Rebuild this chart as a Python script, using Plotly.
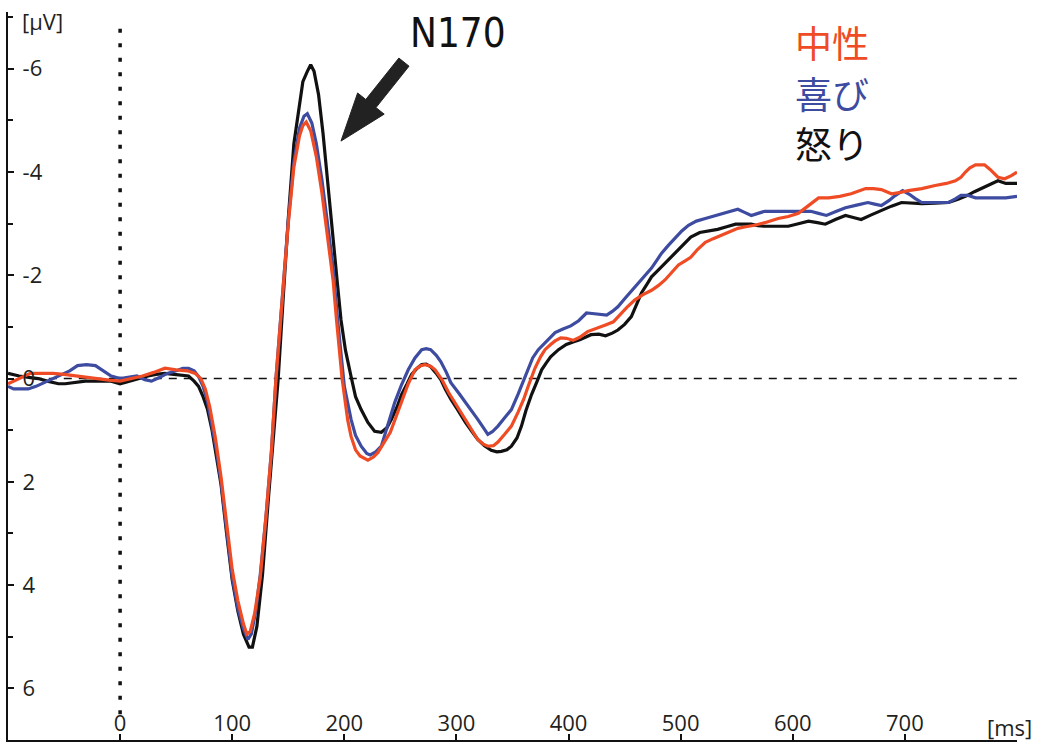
import numpy as np
import plotly.graph_objects as go

# ---------------- data ----------------
t_neutral = [-100,-90,-80,-70,-60,-50,-40,-30,-20,-10,0,10,20,30,40,50,60,67,72,76,80,85,90,95,100,105,110,113,116,120,125,130,135,139,145,150,155,160,163,166,170,175,180,185,190,193,198,203,206,210,214,221,226,230,235,241,246,251,257,263,268,272,277,281,287,293,300,308,314,319,324,328,333,337,343,349,355,360,364,370,375,379,384,388,393,398,404,410,417,425,433,440,444,452,459,466,474,480,486,492,498,504,509,515,522,529,536,544,551,558,566,575,587,596,605,614,623,632,642,652,665,672,679,688,695,703,715,727,737,745,750,754,758,763,771,776,783,789,795,800]
v_neutral = [0.1,0.0,-0.1,-0.1,-0.1,-0.08,-0.05,-0.03,0.0,0.03,0.05,0.0,-0.05,-0.12,-0.2,-0.17,-0.15,-0.1,0.0,0.2,0.55,1.15,1.9,2.8,3.7,4.3,4.75,4.95,4.9,4.55,3.85,2.7,1.4,0.0,-1.6,-3.0,-4.1,-4.7,-4.9,-4.97,-4.8,-4.3,-3.6,-2.8,-1.9,-1.14,0.0,0.8,1.12,1.38,1.5,1.58,1.52,1.43,1.25,1.04,0.75,0.46,0.1,-0.17,-0.25,-0.27,-0.24,-0.17,0.02,0.27,0.52,0.79,1.0,1.18,1.27,1.31,1.3,1.23,1.08,0.92,0.65,0.4,0.15,-0.2,-0.42,-0.56,-0.66,-0.73,-0.79,-0.78,-0.74,-0.8,-0.91,-0.97,-1.04,-1.1,-1.2,-1.38,-1.52,-1.62,-1.71,-1.8,-1.91,-2.05,-2.2,-2.28,-2.35,-2.5,-2.64,-2.71,-2.77,-2.85,-2.91,-2.94,-2.97,-3.02,-3.1,-3.14,-3.2,-3.35,-3.5,-3.5,-3.53,-3.58,-3.68,-3.68,-3.66,-3.58,-3.6,-3.64,-3.68,-3.74,-3.78,-3.83,-3.9,-4.0,-4.08,-4.14,-4.14,-4.05,-3.9,-3.87,-3.93,-4.0]

t_happy = [-100,-95,-90,-82,-75,-65,-55,-45,-38,-30,-22,-15,-8,0,8,15,22,28,35,42,50,56,61,66,70,74,78,82,86,90,95,100,105,110,114,117,121,125,130,135,139,145,150,155,160,164,167,171,175,180,185,190,194,200,206,210,215,220,223,228,233,239,245,251,257,263,269,273,277,282,286,291,295,302,308,314,319,324,328,332,337,343,349,355,361,364,368,373,379,384,388,395,402,409,416,421,426,434,439,444,451,458,466,474,479,483,489,495,501,507,514,522,529,536,544,551,557,563,569,575,587,600,616,623,630,639,647,657,667,673,679,686,691,698,704,709,715,727,739,745,750,756,763,775,790,800]
v_happy = [0.15,0.2,0.2,0.2,0.15,0.05,-0.05,-0.15,-0.25,-0.27,-0.25,-0.15,-0.05,0.0,-0.02,-0.05,0.02,0.05,-0.02,-0.1,-0.15,-0.2,-0.2,-0.15,-0.04,0.15,0.45,0.9,1.4,2.0,2.95,3.85,4.45,4.85,5.05,4.95,4.5,3.8,2.7,1.4,0.0,-1.65,-3.05,-4.2,-4.85,-5.08,-5.13,-4.95,-4.55,-3.85,-3.05,-2.15,-1.14,0.15,0.79,1.1,1.31,1.45,1.48,1.42,1.31,0.9,0.46,0.12,-0.17,-0.4,-0.56,-0.58,-0.56,-0.45,-0.33,-0.12,0.08,0.28,0.46,0.62,0.79,0.95,1.08,1.03,0.92,0.76,0.6,0.3,-0.02,-0.21,-0.4,-0.56,-0.7,-0.8,-0.89,-0.96,-1.02,-1.12,-1.27,-1.26,-1.25,-1.23,-1.3,-1.39,-1.57,-1.75,-1.95,-2.14,-2.3,-2.43,-2.58,-2.72,-2.86,-2.97,-3.05,-3.1,-3.14,-3.18,-3.23,-3.28,-3.22,-3.16,-3.2,-3.24,-3.24,-3.24,-3.24,-3.2,-3.16,-3.24,-3.31,-3.36,-3.41,-3.38,-3.35,-3.45,-3.54,-3.64,-3.57,-3.49,-3.41,-3.41,-3.41,-3.48,-3.55,-3.55,-3.5,-3.5,-3.5,-3.53]

t_anger = [-100,-90,-80,-73,-65,-55,-49,-40,-31,-20,-8,0,8,16,25,32,40,48,55,61,66,70,74,78,82,86,90,95,100,105,110,115,118,122,127,132,137,141,145,150,155,160,163,167,170,173,177,181,185,190,194,197,201,206,210,215,221,227,233,238,242,247,251,256,260,265,269,273,277,282,286,290,295,301,308,314,319,325,331,336,340,345,349,354,358,362,367,372,376,380,384,391,398,404,410,415,420,427,433,439,444,450,456,461,465,470,474,480,486,492,498,504,509,517,525,533,541,549,556,563,569,575,587,596,605,614,622,629,638,647,654,661,670,679,688,697,706,715,727,739,748,756,762,768,776,783,790,800]
v_anger = [-0.1,-0.05,-0.02,0.0,0.05,0.1,0.1,0.08,0.05,0.05,0.05,0.1,0.05,0.0,-0.05,-0.08,-0.1,-0.08,-0.06,-0.05,0.05,0.15,0.35,0.6,1.0,1.5,2.05,3.0,3.9,4.5,4.95,5.2,5.2,4.8,3.8,2.4,1.05,0.0,-1.4,-3.1,-4.55,-5.35,-5.75,-5.95,-6.08,-5.95,-5.5,-4.75,-3.8,-2.7,-1.8,-1.14,-0.55,-0.04,0.35,0.6,0.85,1.02,1.04,0.95,0.79,0.55,0.31,0.1,-0.08,-0.2,-0.27,-0.28,-0.23,-0.1,0.02,0.2,0.4,0.6,0.85,1.03,1.18,1.3,1.39,1.42,1.41,1.38,1.31,1.15,0.92,0.62,0.31,0.05,-0.17,-0.3,-0.42,-0.56,-0.66,-0.71,-0.75,-0.8,-0.85,-0.86,-0.83,-0.88,-0.94,-1.05,-1.2,-1.45,-1.66,-1.83,-1.97,-2.1,-2.23,-2.36,-2.49,-2.62,-2.74,-2.83,-2.86,-2.89,-2.94,-2.99,-2.99,-2.99,-2.96,-2.95,-2.95,-2.95,-3.0,-3.05,-3.02,-2.99,-3.08,-3.16,-3.12,-3.08,-3.17,-3.26,-3.34,-3.41,-3.4,-3.39,-3.4,-3.41,-3.48,-3.55,-3.62,-3.68,-3.76,-3.83,-3.78,-3.78]

series_names = ["中性", "喜び", "怒り"]
series_colors = ["#EF4B24", "#3D4BA0", "#111111"]

x_tick_vals = [0, 100, 200, 300, 400, 500, 600, 700]
x_tick_text = ["0", "100", "200", "300", "400", "500", "600", "700"]
y_tick_vals = [-6, -4, -2, 0, 2, 4, 6]
y_tick_text = ["-6", "-4", "-2", "0", "2", "4", "6"]

X_RANGE = [-100, 800]
Y_RANGE = [7, -7.1]

W, H = 1040, 745
ML, MR, MT, MB = 8, 23, 12, 5

fig = go.Figure()

# draw order: anger (black) below, happy, neutral on top
for t, v, name, col in [(t_anger, v_anger, series_names[2], series_colors[2]),
                        (t_happy, v_happy, series_names[1], series_colors[1]),
                        (t_neutral, v_neutral, series_names[0], series_colors[0])]:
    fig.add_trace(go.Scatter(x=t, y=v, mode="lines", name=name,
                             line=dict(color=col, width=3.2), showlegend=False))

# zero lines
fig.add_shape(type="line", xref="x", yref="y", x0=-77, x1=800, y0=0, y1=0,
              line=dict(color="#111", width=1.5, dash="8px,7px"), layer="below")
fig.add_shape(type="line", xref="x", yref="y", x0=0, x1=0, y0=6.5, y1=-6.9,
              line=dict(color="#111", width=3.5, dash="4px,10.5px"), layer="below")

# N170 arrow (filled polygon, geometry in pixels relative to the tip)
px_per_ms = (W - ML - MR) / (X_RANGE[1] - X_RANGE[0])
px_per_uv = (H - MT - MB) / (Y_RANGE[0] - Y_RANGE[1])
tip = (197.0, -4.6)
u = np.array([63.0, -79.0]); u /= np.linalg.norm(u)
p = np.array([-u[1], u[0]])
head_len, head_hw, shaft_hw, total = 48, 17, 6.5, 101
b = head_len * u
tl = total * u
pts_px = [np.zeros(2), b + head_hw * p, b + shaft_hw * p, tl + shaft_hw * p,
          tl - shaft_hw * p, b - shaft_hw * p, b - head_hw * p]
pts = [(tip[0] + q[0] / px_per_ms, tip[1] + q[1] / px_per_uv) for q in pts_px]
path = "M " + " L ".join(f"{a:.3f},{c:.3f}" for a, c in pts) + " Z"
fig.add_shape(type="path", xref="x", yref="y", path=path,
              fillcolor="#222", line=dict(color="#222", width=1))

tick_font = dict(family="Open Sans, Noto Sans, sans-serif", size=22, color="#231F20")

fig.add_annotation(text="N170", xref="paper", yref="paper",
                   x=(458 - ML) / (W - ML - MR), y=1 - (33 - MT) / (H - MT - MB),
                   xanchor="center", yanchor="middle", showarrow=False,
                   font=dict(family="DejaVu Sans Condensed, Liberation Sans Narrow, Roboto, sans-serif",
                             size=40, color="#111"))

for i, (name, col) in enumerate(zip(series_names, series_colors)):
    ypix = 42 + i * 50.5
    fig.add_annotation(text=name, xref="paper", yref="paper",
                       x=(793 - ML) / (W - ML - MR), y=1 - (ypix - MT) / (H - MT - MB),
                       xanchor="left", yanchor="middle", showarrow=False,
                       font=dict(family="Noto Sans CJK JP, sans-serif", size=37, color=col))

fig.add_annotation(text="[µV]", xref="paper", yref="paper",
                   x=(20 - ML) / (W - ML - MR), y=1 - (21 - MT) / (H - MT - MB),
                   xanchor="left", yanchor="middle", showarrow=False, font=tick_font)
fig.add_annotation(text="[ms]", xref="paper", yref="paper",
                   x=(1009 - ML) / (W - ML - MR), y=(745 - MB - 727) / (H - MT - MB),
                   xanchor="center", yanchor="middle", showarrow=False, font=tick_font)

fig.update_layout(
    width=W, height=H,
    margin=dict(l=ML, r=MR, t=MT, b=MB),
    paper_bgcolor="white", plot_bgcolor="white",
    showlegend=False,
    xaxis=dict(range=X_RANGE, showgrid=False, zeroline=False,
               showline=True, linecolor="#111", linewidth=2,
               ticks="inside", ticklen=6, tickwidth=1.5, tickcolor="#111",
               tickvals=x_tick_vals, ticktext=x_tick_text,
               ticklabelposition="inside", tickfont=tick_font),
    yaxis=dict(range=Y_RANGE, showgrid=False, zeroline=False,
               showline=True, linecolor="#111", linewidth=2,
               ticks="inside", ticklen=6, tickwidth=1.5, tickcolor="#111",
               tickvals=y_tick_vals, ticktext=y_tick_text,
               ticklabelposition="inside", ticklabelstandoff=10, tickfont=tick_font,
               minor=dict(tickvals=[-7, -5, -3, -1, 1, 3, 5], ticks="inside",
                          ticklen=5, tickwidth=1.5, tickcolor="#111")),
)

fig.write_html("out.html")
